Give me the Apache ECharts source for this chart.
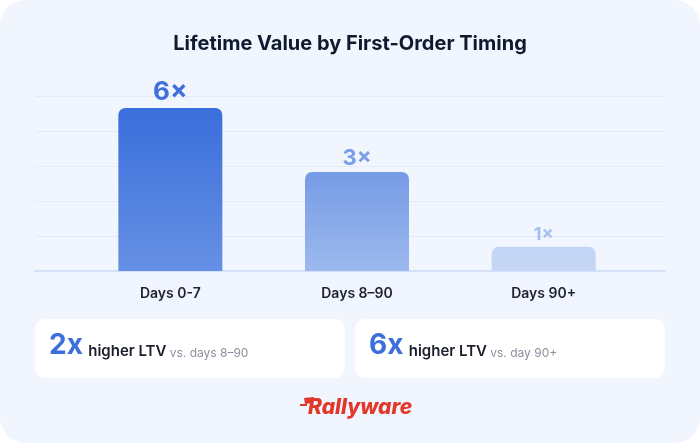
<!DOCTYPE html>
<html><head><meta charset="utf-8">
<script src="https://cdn.jsdelivr.net/npm/echarts@6/dist/echarts.min.js"></script>
<style>html,body{margin:0;padding:0;background:#ffffff;}#c{width:700px;height:443px;}</style>
</head><body><div id="c"></div>
<script>
// ---- data ----
const titleText = 'Lifetime Value by First-Order Timing';
const categories = ['Days 0-7', 'Days 8–90', 'Days 90+'];
const multipliers = [6, 3, 1];              // LTV multiple shown above each bar
const barHeights = [4.66, 2.83, 0.69];      // bar height (grid units)
const yTicks = [0, 1, 2, 3, 4, 5];
const calloutValues = ['2x', '6x'];
const calloutLabels = ['higher LTV', 'higher LTV'];
const calloutComparisons = ['vs. days 8–90', 'vs. day 90+'];
const brand = 'Rallyware';

// ---- styles ----
const FONT = 'Inter, "Noto Sans", sans-serif';
const barGradients = [['#3a6edb', '#6690e4'], ['#769be6', '#9cb9ee'], ['#c3d4f5', '#c6d7f5']];
const labelColors = ['#3f70dc', '#7a9ee7', '#a8c0ef'];
const labelSizes = [26, 22, 18];

const chart = echarts.init(document.getElementById('c'));
const yMax = yTicks[yTicks.length - 1];

const barData = barHeights.map((h, i) => ({
  value: h,
  itemStyle: {
    borderRadius: [7, 7, 0, 0],
    color: new echarts.graphic.LinearGradient(0, 0, 0, 1, [
      { offset: 0, color: barGradients[i][0] },
      { offset: 1, color: barGradients[i][1] }
    ])
  },
  label: {
    show: true, position: 'top', distance: 3,
    formatter: multipliers[i] + '×',
    color: labelColors[i], fontSize: labelSizes[i], fontWeight: 700, fontFamily: FONT
  }
}));

const calloutGraphics = [];
const boxX = [35, 355];
calloutValues.forEach((v, i) => {
  calloutGraphics.push({
    type: 'rect', left: boxX[i], top: 319,
    shape: { width: 310, height: 59, r: 10 },
    style: { fill: '#ffffff' }, z: 1
  });
  calloutGraphics.push({
    type: 'text', left: boxX[i] + 14, top: 332, z: 2,
    style: {
      text: '{a|' + v + '} {b|' + calloutLabels[i] + '} {c|' + calloutComparisons[i] + '}',
      rich: {
        a: { fontSize: 28, fontWeight: 700, fill: '#3d6fdc', fontFamily: FONT, verticalAlign: 'bottom' },
        b: { fontSize: 15, fontWeight: 600, fill: '#1b1e2b', fontFamily: FONT, verticalAlign: 'bottom', padding: [0, 0, 1, 2] },
        c: { fontSize: 12, fontWeight: 400, fill: '#8b909d', fontFamily: FONT, verticalAlign: 'bottom', padding: [0, 0, 1, 0] }
      }
    }
  });
});

chart.setOption({
  animation: false,
  backgroundColor: '#ffffff',
  title: {
    text: titleText, left: 'center', top: 29,
    textStyle: { fontFamily: FONT, fontSize: 20, fontWeight: 700, color: '#101a2f' }
  },
  grid: [
    { left: 35, right: 35, top: 96, bottom: 172 },
    { left: 77, width: 560, top: 96, bottom: 172 }
  ],
  xAxis: [
    { gridIndex: 0, type: 'category', data: categories, show: true,
      axisLine: { show: true, lineStyle: { color: '#d5e1f7', width: 2 } },
      axisTick: { show: false }, axisLabel: { show: false }, splitLine: { show: false } },
    { gridIndex: 1, type: 'category', data: categories,
      axisLine: { show: false }, axisTick: { show: false },
      axisLabel: { color: '#1d2130', fontSize: 14, fontWeight: 600, fontFamily: FONT, margin: 16 } }
  ],
  yAxis: [
    { gridIndex: 0, type: 'value', min: yTicks[0], max: yMax, interval: 1,
      axisLabel: { show: false }, axisLine: { show: false }, axisTick: { show: false },
      splitLine: { lineStyle: { color: '#e4eaf7', width: 1 } } },
    { gridIndex: 1, type: 'value', min: yTicks[0], max: yMax, interval: 1, show: false,
      splitLine: { show: false } }
  ],
  series: [{
    type: 'bar', xAxisIndex: 1, yAxisIndex: 1, barWidth: 104, data: barData, z: 3
  }],
  graphic: [
    { type: 'rect', left: 0, top: 0, z: -10, silent: true,
      shape: { width: 700, height: 443, r: 26 }, style: { fill: '#f1f5fd' } },
    ...calloutGraphics,
    { type: 'polygon', z: 3, shape: { points: [[304, 398], [314, 397], [313, 403], [305, 404]] }, style: { fill: '#e2372b' } },
    { type: 'rect', z: 3, shape: { x: 300, y: 404, width: 7, height: 2 }, style: { fill: '#e2372b' } },
    { type: 'text', left: 308, top: 397, z: 3,
      style: { text: brand, fontSize: 21, fontWeight: 800, fontStyle: 'italic', fill: '#e2372b', fontFamily: FONT } }
  ]
});
</script>
</body></html>
